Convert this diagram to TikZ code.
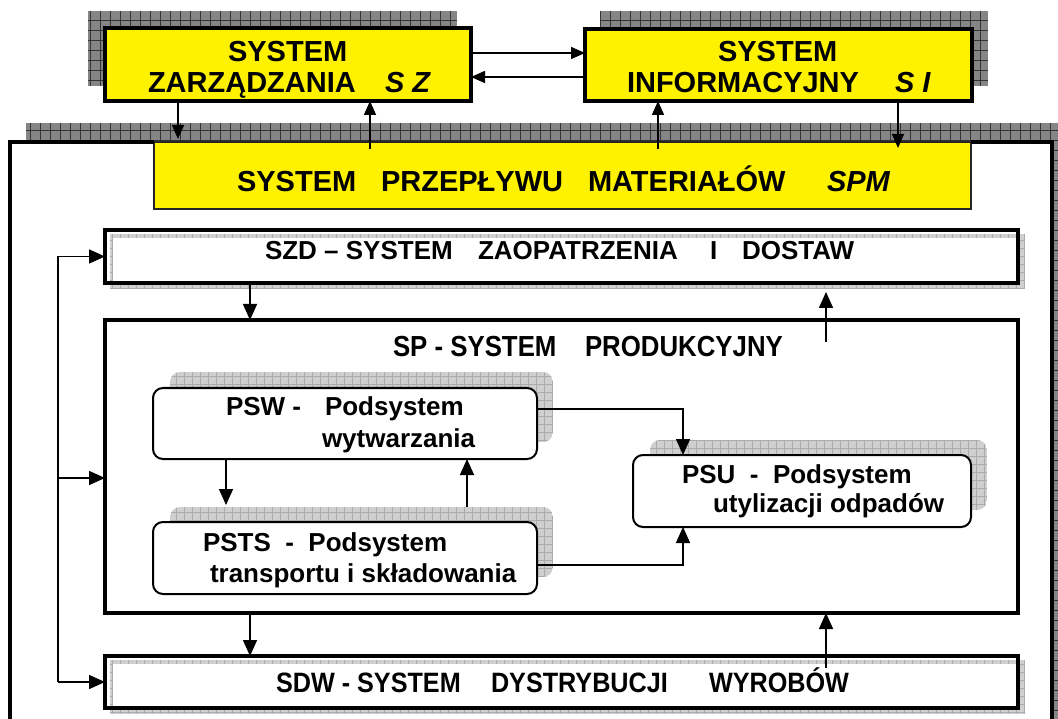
\documentclass[tikz,border=0pt]{standalone}
\usepackage{fontspec}
\setmainfont{Liberation Sans}
\usepackage{graphicx}
\usetikzlibrary{arrows.meta,calc}

\newcommand{\myfA}{\fontsize{29}{34}\selectfont\bfseries}
\newcommand{\myfB}{\fontsize{26}{31}\selectfont\bfseries}
\newcommand{\myfC}{\fontsize{28}{33}\selectfont\bfseries}
\newcommand{\mycond}[2]{\scalebox{#1}[1]{#2}}
% shadow with grid hatching: x1,y1,x2,y2 (image coords), kind, radius
\newcommand{\myshadow}[6]{%
  \begin{scope}
    \clip[rounded corners=#6] (#1,#2) rectangle (#3,#4);
    \fill[#5fill] (#1,#2) rectangle (#3,#4);
    \draw[#5line] (#1,#4) grid (#3,#2);
  \end{scope}}

\tikzset{
  darkfill/.style={fill=black!48},
  darkline/.style={draw=black!80, line width=0.8pt, step=10pt},
  lightfill/.style={fill=gray!38},
  lightline/.style={draw=gray!66, line width=0.6pt, step=8pt},
  box/.style={draw=black, inner sep=0pt, outer sep=0pt},
  topbox/.style={box, fill=yellow, line width=4pt},
  wide/.style={box, line width=4pt},
  round/.style={box, fill=white, line width=2pt, rounded corners=10pt},
  txt/.style={anchor=base west, inner sep=0pt, outer sep=0pt},
  arrT/.style={line width=1.6pt, -{Triangle[length=14pt,width=12pt]}},
  arrM/.style={line width=1.5pt, -{Triangle[length=16pt,width=14pt]}},
  plain/.style={line width=1.5pt}
}

\begin{document}
\begin{tikzpicture}[x=1pt,y=-1pt]
\useasboundingbox (0,0) rectangle (1058,719);
\clip (0,0) rectangle (1058,719);

% outer shadow and frame
\myshadow{26}{123}{1068}{740}{dark}{0pt}
\fill[white] (10,142) rectangle (1052,740);

% top shadows
\myshadow{88}{11}{457}{86}{dark}{0pt}
\myshadow{600}{11}{988}{86}{dark}{0pt}

% SPM
\node[box, fill=yellow, draw=black!85, line width=1.2pt, minimum width=817pt, minimum height=67pt] (spm) at (562.5,175.5) {};
\draw[line width=4pt] (10,740) -- (10,142) -- (154,142);
\draw[line width=4pt] (971,142) -- (1052,142) -- (1052,740);

% top boxes
\node[topbox, minimum width=366pt, minimum height=73pt] (sz) at (288,64.5) {};
\node[topbox, minimum width=387pt, minimum height=72pt] (si) at (778.5,65) {};

% SZD
\myshadow{110}{234}{1025}{289}{light}{0pt}
\fill[white] (113,238) rectangle (1016,281);
\node[wide, minimum width=913pt, minimum height=53pt] (szd) at (561.5,256.5) {};

% SDW
\myshadow{110}{660}{1025}{714}{light}{0pt}
\fill[white] (113,664) rectangle (1016,706);
\node[wide, minimum width=913pt, minimum height=52pt] (sdw) at (561.5,682) {};

% SP
\node[box, line width=3.5pt, minimum width=913pt, minimum height=293pt] (sp) at (561.5,466.5) {};

% inner rounded boxes
\myshadow{170}{372}{553}{442}{light}{10pt}
\myshadow{170}{507}{553}{577}{light}{10pt}
\myshadow{650}{440}{987}{510}{light}{10pt}
\node[round, minimum width=384pt, minimum height=71pt] (psw) at (345,423.5) {};
\node[round, minimum width=384pt, minimum height=72pt] (psts) at (345,558) {};
\node[round, minimum width=338pt, minimum height=72pt] (psu) at (802,491) {};

% texts
\node[txt] (tsz1) at (228,62) {\myfA SYSTEM};
\node[txt] (tsz2) at (148,93) {\myfA ZARZĄDZANIA};
\node[txt] (tsz3) at (385,93) {\myfA\itshape S Z};
\node[txt] (tsi1) at (718,62) {\myfA SYSTEM};
\node[txt] (tsi2) at (627,93) {\myfA INFORMACYJNY};
\node[txt] (tsi3) at (895,93) {\myfA\itshape S I};

\node[txt] (tp1) at (237,192) {\myfA SYSTEM};
\node[txt] (tp2) at (381,192) {\myfA PRZEPŁYWU};
\node[txt] (tp3) at (588,192) {\myfA MATERIAŁÓW};
\node[txt] (tp4) at (827,192) {\myfA\itshape SPM};

\node[txt] (tz1) at (265,260) {\myfB SZD – SYSTEM};
\node[txt] (tz2) at (478,260) {\myfB ZAOPATRZENIA};
\node[txt] (tz3) at (710,260) {\myfB I};
\node[txt] (tz4) at (742,260) {\myfB DOSTAW};

\node[txt] (ts1) at (393,356) {\mycond{0.89}{\myfA SP - SYSTEM}};
\node[txt] (ts2) at (585,356) {\mycond{0.89}{\myfA PRODUKCYJNY}};

\node[txt] (td1) at (276,692) {\mycond{0.9}{\myfC SDW - SYSTEM}};
\node[txt] (td2) at (491,692) {\mycond{0.9}{\myfC DYSTRYBUCJI}};
\node[txt] (td3) at (709,692) {\mycond{0.9}{\myfC WYROBÓW}};

\node[txt] (tw1) at (226,415) {\myfB PSW -};
\node[txt] (tw2) at (325,415) {\myfB Podsystem};
\node[txt] (tw3) at (322,447) {\myfB wytwarzania};
\node[txt] (tt1) at (203,551) {\myfB PSTS\ \ -\ \ Podsystem};
\node[txt] (tt2) at (210,582) {\myfB transportu i składowania};
\node[txt] (tu1) at (682,483) {\myfB PSU\ \ -\ \ Podsystem};
\node[txt] (tu2) at (713,512) {\myfB utylizacji odpadów};

% top connectors
\coordinate (y53) at (0,53);
\coordinate (y77) at (0,77);
\draw[arrT] (sz.east |- y53) -- (si.west |- y53);
\draw[arrT] (si.west |- y77) -- (sz.east |- y77);
\coordinate (t1) at (178,139);
\draw[arrT] (sz.south -| t1) -- (t1);
\coordinate (s1) at (370,149);
\draw[arrT] (s1) -- (sz.south -| s1);
\coordinate (s2) at (658,149);
\draw[arrT] (s2) -- (si.south -| s2);
\coordinate (s3) at (898,148);
\draw[arrT] (si.south -| s3) -- (s3);

% left bracket
\coordinate (lb) at (58,478);
\draw[plain] (lb |- szd.west) -- (lb |- sdw.west);
\draw[arrM] (lb |- szd.west) -- (szd.west);
\draw[arrM] (lb) -- (sp.west |- lb);
\draw[arrM] (lb |- sdw.west) -- (sdw.west);

% vertical connectors between levels
\coordinate (c250) at (250,0);
\draw[arrM] (szd.south -| c250) -- (sp.north -| c250);
\draw[arrM] (sp.south -| c250) -- (sdw.north -| c250);
\coordinate (c826a) at (826,342);
\coordinate (c826t) at (826,292);
\draw[arrM] (c826a) -- (c826t);
\coordinate (c826b) at (826,668);
\draw[arrM] (c826b) -- (sp.south -| c826b);

% inner connectors
\coordinate (d1) at (226,505);
\draw[arrM] (psw.south -| d1) -- (d1);
\coordinate (d2) at (467,507);
\draw[arrM] (d2) -- (psw.south -| d2);
\coordinate (d3) at (683,0);
\coordinate (e1) at (0,409);
\coordinate (e2) at (0,565);
\draw[arrM] (psw.east |- e1) -| (psu.north -| d3);
\draw[arrM] (psts.east |- e2) -| (psu.south -| d3);
\end{tikzpicture}
\end{document}
